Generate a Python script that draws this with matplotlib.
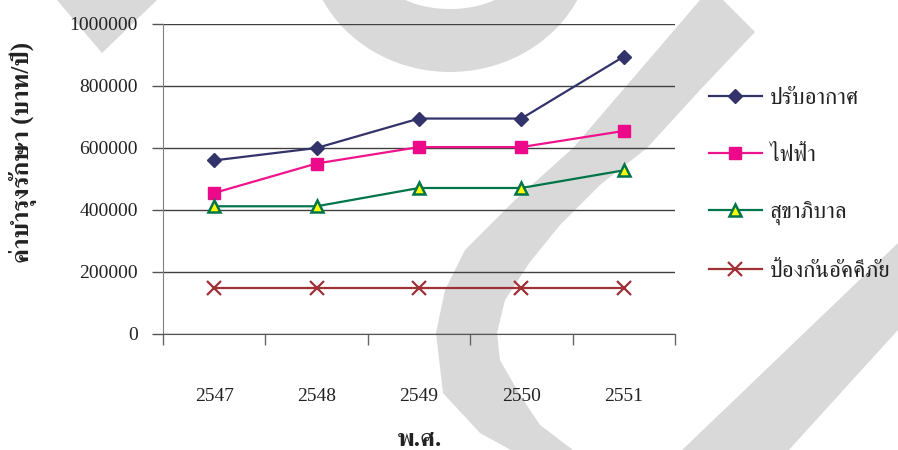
import numpy as np
import matplotlib
matplotlib.use("Agg")
import matplotlib.pyplot as plt
from matplotlib.patches import Polygon

# Maintenance cost per year for each building system
years = ["2547", "2548", "2549", "2550", "2551"]
aircon = [560000, 600000, 695000, 695000, 895000]
electric = [455000, 550000, 603000, 603000, 655000]
sanitary = [412000, 412000, 471000, 471000, 528000]
fire = [148000, 148000, 148000, 148000, 148000]
series_names = ["ปรับอากาศ", "ไฟฟ้า", "สุขาภิบาล", "ป้องกันอัคคีภัย"]

y_ticks = [0, 200000, 400000, 600000, 800000, 1000000]

# Latin digits from Liberation Serif, Thai glyphs from FreeSerif
plt.rcParams["font.family"] = ["Liberation Serif", "FreeSerif", "DejaVu Sans"]

W, H = 898, 450
fig = plt.figure(figsize=(W / 100, H / 100), dpi=100)

# grey background mark, drawn in pixel coords behind the chart
bg = fig.add_axes([0, 0, 1, 1], zorder=0)
bg.set_xlim(0, W)
bg.set_ylim(H, 0)
bg.axis("off")
grey = "#d9d9d9"

bg.add_patch(Polygon([(57, 0), (157, 0), (102, 53)], color=grey, lw=0))

t = np.linspace(0, np.pi, 60)
outer = np.column_stack([450 + 143 * np.cos(t), -60 + 132 * np.sin(t)])
inner = np.column_stack([450 + 70 * np.cos(t[::-1]), -30 + 39 * np.sin(t[::-1])])
bg.add_patch(Polygon(np.vstack([outer, inner]), color=grey, lw=0))

left_edge = [(711, -12), (700, 0), (640, 70), (573, 148), (515, 200), (465, 250),
             (445, 290), (436, 333), (443, 393), (480, 433), (520, 455)]
right_edge = [(585, 460), (573, 450), (540, 425), (520, 395), (500, 360), (497, 333),
              (505, 300), (530, 262), (560, 225), (600, 185), (647, 148), (700, 90),
              (755, 32)]
bg.add_patch(Polygon(left_edge + right_edge, color=grey, lw=0))

bg.add_patch(Polygon([(898, 243), (680, 452), (787, 452), (898, 330)], color=grey, lw=0))

# main chart
ax = fig.add_axes([163 / W, 1 - 334 / H, 512 / W, 310 / H], zorder=1)
ax.patch.set_alpha(0)

x = np.arange(len(years))
ax.plot(x, aircon, color="#33336b", lw=1.6, marker="D", ms=7,
        mfc="#33336b", mec="#33336b", label=series_names[0], zorder=4)
ax.plot(x, electric, color="#f0148c", lw=1.6, marker="s", ms=8,
        mfc="#ec0a8a", mec="#ec0a8a", label=series_names[1], zorder=4)
ax.plot(x, sanitary, color="#00754a", lw=1.6, marker="^", ms=9,
        mfc="#ffff00", mec="#00754a", mew=1.8, label=series_names[2], zorder=4)
ax.plot(x, fire, color="#9e3036", lw=1.6, marker="x", ms=10,
        mew=1.6, label=series_names[3], zorder=4)

ax.set_xlim(-0.5, len(years) - 0.5)
ax.set_ylim(0, 1000000)
ax.set_yticks(y_ticks)
ax.set_yticklabels([str(v) for v in y_ticks])
ax.yaxis.grid(True, color="#404040", lw=1)
ax.set_axisbelow(True)

ax.set_xticks(x)
ax.set_xticklabels(years)
ax.set_xticks(np.arange(-0.5, len(years)), minor=True)
ax.tick_params(axis="x", which="major", length=0, pad=39, labelsize=14, labelcolor="#222222")
ax.tick_params(axis="x", which="minor", length=8, width=1, color="#666666", direction="out")
ax.tick_params(axis="y", length=8, width=1, color="#555555", pad=10,
               labelsize=14, labelcolor="#222222")

for side in ["top", "right"]:
    ax.spines[side].set_visible(False)
ax.spines["left"].set_color("#808080")
ax.spines["bottom"].set_color("#555555")

fig.text(23 / W, 1 - 152 / H, "ค่าบำรุงรักษา (บาท/ปี)", rotation=90,
         ha="center", va="center", fontsize=18, fontweight="bold", color="#222222")
fig.text(420 / W, 1 - 440 / H, "พ.ศ.", ha="center", va="center",
         fontsize=18, fontweight="bold", color="#222222")

leg = ax.legend(loc="upper left", bbox_to_anchor=(709 / W, 1 - 88 / H),
                bbox_transform=fig.transFigure, frameon=False, fontsize=16.5,
                handlelength=2.3, handletextpad=0.35, labelspacing=1.55,
                borderpad=0, borderaxespad=0)
for txt in leg.get_texts():
    txt.set_color("#222222")

fig.savefig("out.png", dpi=100)
